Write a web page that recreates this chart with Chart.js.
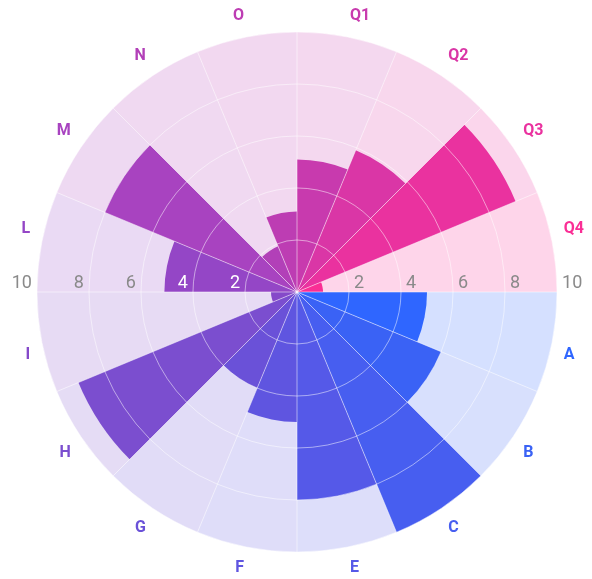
<!DOCTYPE html>
<html>
<head>
<meta charset="utf-8">
<script src="https://cdn.jsdelivr.net/npm/chart.js@4/dist/chart.umd.min.js"></script>
<style>
  html, body { margin: 0; padding: 0; background: #fff; }
  .chartBox { width: 592px; height: 579px; }
</style>
</head>
<body>
<div class="chartBox"><canvas id="chart"></canvas></div>
<script>
// categories clockwise, starting at 3 o'clock
const labels = ['A', 'B', 'C', 'E', 'F', 'G', 'H', 'I', 'L', 'M', 'N', 'O', 'Q1', 'Q2', 'Q3', 'Q4'];
const values = [5.0, 6.0, 10.0, 8.0, 5.0, 4.0, 9.1, 1.0, 5.1, 8.0, 1.9, 3.1, 5.1, 5.9, 9.1, 1.0];
const maxValues = [10, 10, 10, 10, 10, 10, 10, 10, 10, 10, 10, 10, 10, 10, 10, 10];
const tickValues = [2, 4, 6, 8, 10];
const colors = [
  [47, 102, 255], [58, 98, 245], [71, 94, 240], [85, 89, 232],
  [95, 85, 224], [106, 81, 216], [123, 78, 207], [133, 73, 201],
  [148, 70, 198], [168, 67, 192], [178, 64, 184], [189, 61, 179],
  [200, 58, 174], [218, 54, 166], [234, 50, 159], [250, 46, 149]
];

const rgba = (c, a) => 'rgba(' + c[0] + ',' + c[1] + ',' + c[2] + ',' + a + ')';

// tick labels on both sides of the centre
const sideTicks = {
  id: 'sideTicks',
  afterDraw(chart) {
    const scale = chart.scales.r;
    const ctx = chart.ctx;
    ctx.save();
    ctx.font = '18px Roboto';
    ctx.textBaseline = 'middle';
    const y = scale.yCenter - 9;
    tickValues.forEach(v => {
      const d = scale.getDistanceFromCenterForValue(v);
      // right side sits over the Q4 wedge, left side over the L wedge
      ctx.fillStyle = v < values[15] ? '#fff' : '#8a8a8a';
      ctx.textAlign = 'left';
      ctx.fillText(String(v), scale.xCenter + d + 5, y);
      ctx.fillStyle = v < values[8] ? '#fff' : '#8a8a8a';
      ctx.textAlign = 'right';
      ctx.fillText(String(v), scale.xCenter - d - 5, y);
    });
    ctx.restore();
  }
};

new Chart(document.getElementById('chart'), {
  type: 'polarArea',
  data: {
    labels: labels,
    datasets: [
      {
        data: values,
        backgroundColor: colors.map(c => rgba(c, 1)),
        borderWidth: 0,
      },
      {
        data: maxValues,
        backgroundColor: colors.map(c => rgba(c, 0.2)),
        borderWidth: 0,
      }
    ]
  },
  options: {
    responsive: true,
    maintainAspectRatio: false,
    animation: false,
    layout: { padding: { left: 14, top: 6, right: 0, bottom: 0 } },
    plugins: {
      legend: { display: false },
      tooltip: { enabled: false },
    },
    scales: {
      r: {
        min: 0,
        max: 10,
        startAngle: 90,
        ticks: { display: false, stepSize: 2, z: 1 },
        grid: { circular: true, z: 1, color: 'rgba(255,255,255,0.5)' },
        angleLines: { display: true, color: 'rgba(255,255,255,0.5)' },
        pointLabels: {
          display: true,
          centerPointLabels: true,
          padding: 12,
          font: { family: 'Roboto', size: 16, weight: 'bold' },
          color: ctx => rgba(colors[ctx.index], 1),
        },
      },
    },
  },
  plugins: [sideTicks],
});
</script>
</body>
</html>
